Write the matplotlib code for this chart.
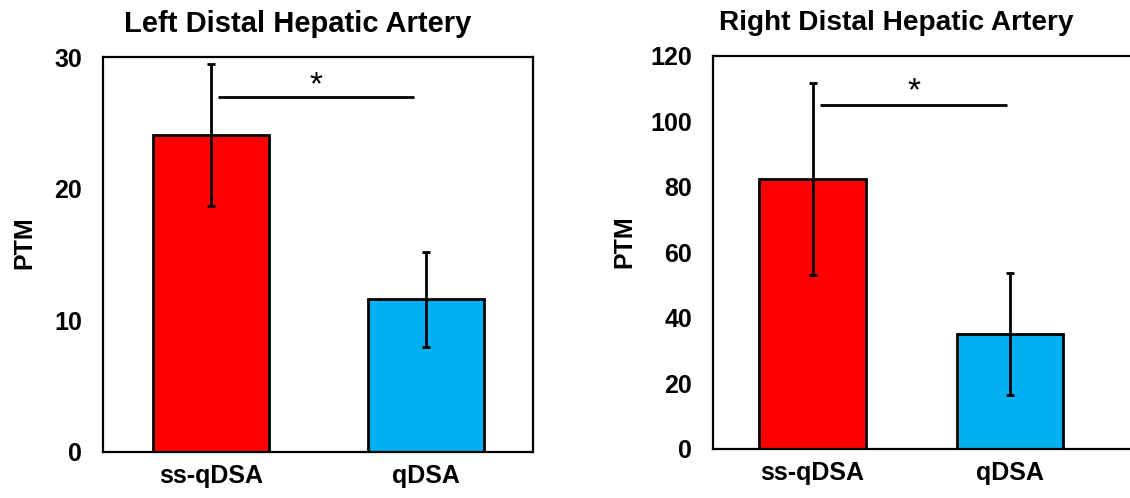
import numpy as np
import matplotlib.pyplot as plt

plt.rcParams['font.family'] = ['Liberation Sans', 'DejaVu Sans']
plt.rcParams['font.weight'] = 'bold'

groups = ['ss-qDSA', 'qDSA']
colors = ['#FF0000', '#00B0F0']

left_title = 'Left Distal Hepatic Artery'
left_means = [24.1, 11.6]
left_err = [5.4, 3.6]
left_ticks = [0, 10, 20, 30]

right_title = 'Right Distal Hepatic Artery'
right_means = [82.4, 35.1]
right_err = [29.3, 18.7]
right_ticks = [0, 20, 40, 60, 80, 100, 120]

# significance bars: (x0, x1, y, star y)
left_sig = (0.03, 0.944, 27.0, 27.2)
right_sig = (0.04, 0.985, 105.0, 106.6)

fig = plt.figure(figsize=(11.3, 4.98), dpi=100)
ax1 = fig.add_axes([0.0912, 0.0924, 0.3805, 0.7931])
ax2 = fig.add_axes([0.631, 0.0984, 0.369, 0.7892])


def draw(ax, means, err, ticks, title, sig, xmax, title_x, title_y, title_size):
    x = np.arange(len(groups))
    ax.bar(x, means, width=0.54, color=colors, edgecolor='black', linewidth=2, zorder=2)
    ax.errorbar(x, means, yerr=err, fmt='none', ecolor='black', elinewidth=2,
                capsize=3, capthick=2, zorder=3)
    ax.set_xlim(-0.504, xmax)
    ax.set_ylim(0, ticks[-1])
    ax.set_yticks(ticks)
    ax.set_xticks(x)
    ax.set_xticklabels(groups)
    ax.tick_params(axis='both', length=0, labelsize=18)
    ax.tick_params(axis='y', pad=15)
    ax.tick_params(axis='x', pad=9)
    for s in ax.spines.values():
        s.set_linewidth(1.6)
    ax.set_ylabel('PTM', fontsize=18, fontweight='bold')
    x0, x1, y, sy = sig
    ax.plot([x0, x1], [y, y], color='black', linewidth=2, solid_capstyle='butt')
    ax.text((x0 + x1) / 2, sy, '*', fontsize=24, fontweight='normal',
            ha='center', va='baseline')
    ax.text(title_x, title_y, title, transform=ax.transAxes, fontsize=title_size,
            fontweight='bold', ha='center', va='baseline')


draw(ax1, left_means, left_err, left_ticks, left_title, left_sig, 1.5, 0.453, 1.063, 21)
draw(ax2, right_means, right_err, right_ticks, right_title, right_sig, 1.607, 0.44, 1.066, 20.2)
ax2.spines['right'].set_visible(False)
ax1.yaxis.set_label_coords(-0.155, 0.529)
ax2.yaxis.set_label_coords(-0.185, 0.527)

fig.savefig('out.png', dpi=100)
